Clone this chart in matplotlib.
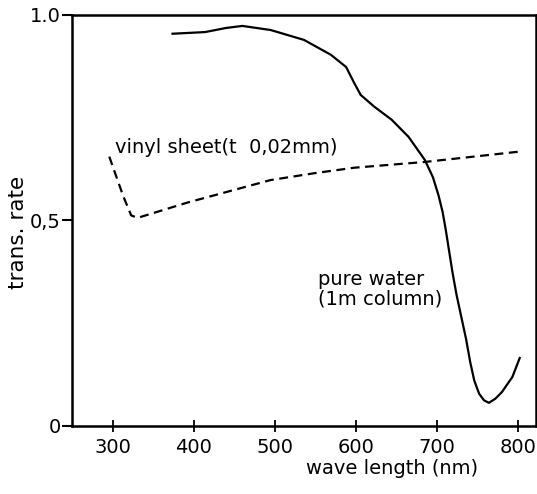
import numpy as np
import matplotlib
matplotlib.use("Agg")
import matplotlib.pyplot as plt

# transmission of 1 m pure water column
water_nm = [374, 414, 440, 460, 495, 536, 569, 588, 598, 606, 623, 644, 665,
            685, 695, 702, 707, 711, 715, 719, 724, 730, 736, 741, 746, 752,
            758, 764, 772, 780, 793, 802]
water_t = [0.954, 0.958, 0.968, 0.973, 0.963, 0.939, 0.903, 0.873, 0.834,
           0.805, 0.776, 0.745, 0.703, 0.647, 0.605, 0.560, 0.520, 0.475,
           0.425, 0.375, 0.320, 0.265, 0.210, 0.155, 0.110, 0.078, 0.062,
           0.056, 0.066, 0.082, 0.119, 0.165]

# transmission of vinyl sheet, 0.02 mm thick
vinyl_nm = [296, 313, 323, 331, 392, 450, 495, 550, 598, 685, 801]
vinyl_t = [0.655, 0.560, 0.512, 0.506, 0.543, 0.574, 0.598, 0.615, 0.628,
           0.642, 0.667]

xticks = [300, 400, 500, 600, 700, 800]
yticks = [0, 0.5, 1.0]
ytick_labels = ["0", "0,5", "1.0"]

plt.rcParams['font.family'] = ['DejaVu Sans']
fs = 14

fig = plt.figure(figsize=(5.37, 4.94), dpi=100)
ax = fig.add_axes([0.134, 0.138, 0.864, 0.832])

ax.plot(water_nm, water_t, color='black', lw=1.6)
ax.plot(vinyl_nm, vinyl_t, color='black', lw=1.6, ls=(0, (4, 2.5)))

ax.set_xlim(250, 822)
ax.set_ylim(0, 1.0)
ax.set_xticks(xticks)
ax.set_yticks(yticks)
ax.set_yticklabels(ytick_labels)

for s in ax.spines.values():
    s.set_linewidth(1.8)
ax.tick_params(axis='x', direction='inout', length=8, width=1.3,
               labelsize=fs, pad=5)
ax.tick_params(axis='y', direction='out', length=7, width=1.5,
               labelsize=fs, pad=1)

ax.text(303, 0.655, "vinyl sheet(t  0,02mm)", fontsize=fs, va='bottom')
ax.text(553, 0.285, "pure water\n(1m column)", fontsize=fs, va='bottom',
        linespacing=1.05)

ax.set_xlabel("wave length (nm)", fontsize=fs)
ax.xaxis.set_label_coords(0.69, -0.08)
ax.set_ylabel("trans. rate", fontsize=15.5)
ax.yaxis.set_label_coords(-0.095, 0.47)

fig.savefig("out.png", dpi=100)
